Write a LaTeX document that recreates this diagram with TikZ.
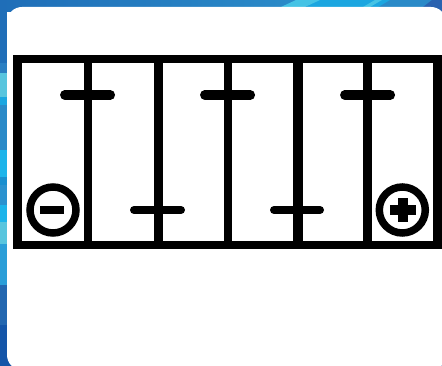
\documentclass[tikz,border=0pt]{standalone}
\definecolor{bandA}{HTML}{1F6EB8}
\definecolor{bandB}{HTML}{2A7FC2}
\definecolor{bandC}{HTML}{58C5DE}
\definecolor{bandD}{HTML}{1BA6E0}
\definecolor{bandE}{HTML}{2A8AC8}
\definecolor{bandF}{HTML}{1DB4EA}
\definecolor{bandG}{HTML}{1A8FCF}
\definecolor{bandH}{HTML}{2B92CF}
\definecolor{bandI}{HTML}{2A9ED8}
\definecolor{bandJ}{HTML}{2367B0}
\definecolor{bandK}{HTML}{1455A8}
\definecolor{streak}{HTML}{45C3E5}
\definecolor{corner}{HTML}{2A62B0}
\tikzset{
  band/.style={fill=#1,draw=none},
  wall/.style={line width=#1,black,line cap=butt},
  strap/.style={line width=#1,black,line cap=round},
  ring/.style={line width=7.5pt,black,draw,fill=white},
  sign/.style={fill=black,draw=none}
}
\begin{document}
\begin{tikzpicture}[x=1pt,y=-1pt]
\useasboundingbox (0,0) rectangle (442,366);
\begin{scope}
\clip (0,0) rectangle (442,366);
% background
\shade[left color=bandA,right color=bandE] (0,0) rectangle (290,12);
\fill[band=bandE] (285,0) rectangle (442,12);
\fill[band=bandD] (300,12) -- (315,0) -- (390,0) -- (370,12) -- cycle;
\fill[band=streak] (281,7) -- (296,0) -- (320,0) -- (305,7) -- cycle;
\fill[band=streak] (363,7) -- (375,0) -- (382,0) -- (370,7) -- cycle;
\fill[band=corner] (423,7) -- (432,0) -- (442,0) -- (442,20) -- (423,20) -- cycle;
\fill[band=bandA] (0,0) rectangle (7,63);
\fill[band=bandB] (0,63) rectangle (7,73);
\fill[band=bandC] (0,73) rectangle (7,97);
\fill[band=bandD] (0,97) rectangle (7,105);
\fill[band=bandE] (0,105) rectangle (7,150);
\fill[band=bandF] (0,150) rectangle (7,177);
\fill[band=bandG] (0,177) rectangle (7,185);
\fill[band=bandH] (0,185) rectangle (7,205);
\fill[band=bandF] (0,205) rectangle (7,222);
\fill[band=bandC] (0,222) rectangle (7,244);
\fill[band=bandI] (0,244) rectangle (7,285);
\fill[band=bandJ] (0,285) rectangle (7,325);
\fill[band=bandK] (0,325) rectangle (7,366);
\fill[band=bandK] (0,350) rectangle (25,366);
\fill[band=corner] (430,350) rectangle (442,366);
% card
\fill[white,rounded corners=15pt] (7,7) rectangle (446,370);
\end{scope}
% battery case
\draw[wall=7.5pt] (88.2,59) -- (88.2,245);
\draw[wall=9pt] (158,59) -- (158,245);
\draw[wall=8pt] (228,59) -- (228,245);
\draw[wall=9.5pt] (298,59) -- (298,245);
\draw[wall=9pt] (367.5,59) -- (367.5,245);
\draw[wall=8.5pt,line join=miter] (17.5,59) rectangle (437.6,245);
% cell straps
\draw[strap=9.5pt] (64.8,95) -- (110.3,95);
\draw[strap=8pt] (134,210) -- (181,210);
\draw[strap=9.5pt] (204.8,95) -- (250.3,95);
\draw[strap=8pt] (274,210) -- (320,210);
\draw[strap=9.5pt] (344.8,95) -- (390.3,95);
% terminals
\draw[ring] (53,210) circle (23);
\fill[sign] (40,206) rectangle (64.3,214);
\draw[ring] (402.3,210) circle (23);
\fill[sign] (390,205) rectangle (415.5,215.5);
\fill[sign] (397.5,198) rectangle (407.5,222);
\end{tikzpicture}
\end{document}
